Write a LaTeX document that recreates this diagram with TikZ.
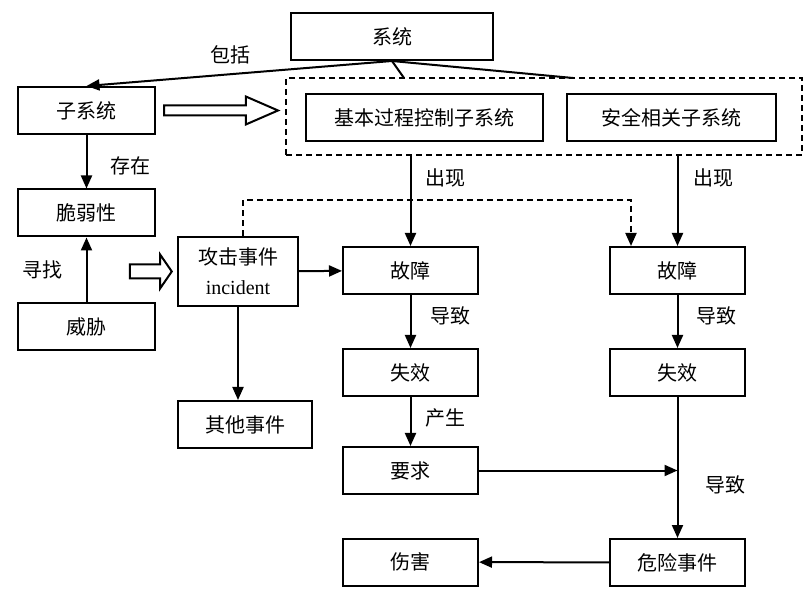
\documentclass[tikz,border=0pt]{standalone}
\usepackage{fontspec}
\setmainfont{Noto Sans CJK SC}
\newfontfamily\latinfont{Liberation Serif}
\usetikzlibrary{shapes.arrows, arrows.meta, positioning, calc}

\begin{document}
\begin{tikzpicture}[x=1pt, y=-1pt,
        box/.style={draw, line width=2pt, minimum width=135pt, minimum height=47pt, align=center, font=\fontsize{20}{30}\selectfont},
        lbl/.style={font=\fontsize{20}{22}\selectfont},
        arr/.style={-{Triangle[length=13pt, width=11pt]}, line width=2pt},
        grp/.style={draw, dash pattern=on 6pt off 4pt, line width=2pt},
        hollow/.style={single arrow, draw, line width=2pt, inner xsep=0pt, fill=white}
    ]
        \useasboundingbox (0,0) rectangle (806,601);
        \node[box, minimum width=202pt] (sys) at (392,36.5) {系统};
        \node[box, minimum width=137pt] (sub) at (86.5,110.5) {子系统};
        \node[box, minimum width=137pt] (vul) at (86.5,213) {脆弱性};
        \node[box, minimum width=137pt] (threat) at (86.5,326.5) {威胁};
        \node[grp, minimum width=516pt, minimum height=77pt] (grp) at (544,116.5) {};
        \node[box, minimum width=237pt] (bpcs) at (424.5,117.5) {基本过程控制子系统};
        \node[box, minimum width=209pt] (sis) at (671.5,117.5) {安全相关子系统};
        \node[box, minimum width=120pt, minimum height=69pt] (attack) at (238,271.5) {攻击事件\\{\latinfont incident}};
        \node[box] (fault1) at (410.5,270.5) {故障};
        \node[box] (fault2) at (677.5,270.5) {故障};
        \node[box] (fail1) at (410.5,372.5) {失效};
        \node[box] (fail2) at (677.5,372.5) {失效};
        \node[box, minimum width=134pt] (other) at (245,424.5) {其他事件};
        \node[box] (demand) at (410.5,470.5) {要求};
        \node[box] (harm) at (410.5,562) {伤害};
        \node[box] (hazard) at (677.5,562.5) {危险事件};
        \node[hollow, inner ysep=4pt, minimum height=114pt, minimum width=26pt, single arrow head extend=9pt, single arrow tip angle=47, right=7pt of sub] (wide) {};
        \node[hollow, inner ysep=6pt, minimum height=42pt, minimum width=32pt, single arrow head extend=10pt, single arrow tip angle=111, left=4pt of attack] (into) {};
        \coordinate (g1) at (404,78);
        \coordinate (g2) at (573,78);
        \draw[arr] (sys.south) -- (sub.north);
        \draw[line width=2pt] (sys.south) -- (g1);
        \draw[line width=2pt] (sys.south) -- (g2);
        \draw[arr] (sub) -- (vul);
        \draw[arr] (threat) -- (vul);
        \draw[arr] (attack) -- (fault1);
        \draw[arr] (attack.south) -- (attack.south |- other.north);
        \draw[arr, dash pattern=on 6pt off 4pt] ($(attack.north)+(5,0)$) -- ++(0,-36) -| ($(fault2.north west)+(22,0)$);
        \draw[arr] (grp.south -| fault1) -- (fault1);
        \draw[arr] (grp.south -| fault2) -- (fault2);
        \draw[arr] (fault1) -- (fail1);
        \draw[arr] (fault2) -- (fail2);
        \draw[arr] (fail1) -- (demand);
        \draw[arr] (fail2) -- (hazard);
        \draw[arr] (demand) -- (demand -| hazard);
        \draw[arr] (hazard) -- (harm);
        \node[lbl] (incl) at (230,55) {包括};
        \node[lbl] (exist) at (130,166) {存在};
        \node[lbl] (seek) at (43,270) {寻找};
        \node[lbl] (occur1) at (445,178) {出现};
        \node[lbl] (occur2) at (713,178) {出现};
        \node[lbl] (lead1) at (450,316) {导致};
        \node[lbl] (lead2) at (716,316) {导致};
        \node[lbl] (lead3) at (725,485) {导致};
        \node[lbl] (yield) at (445,418) {产生};
    \end{tikzpicture}
\end{document}
